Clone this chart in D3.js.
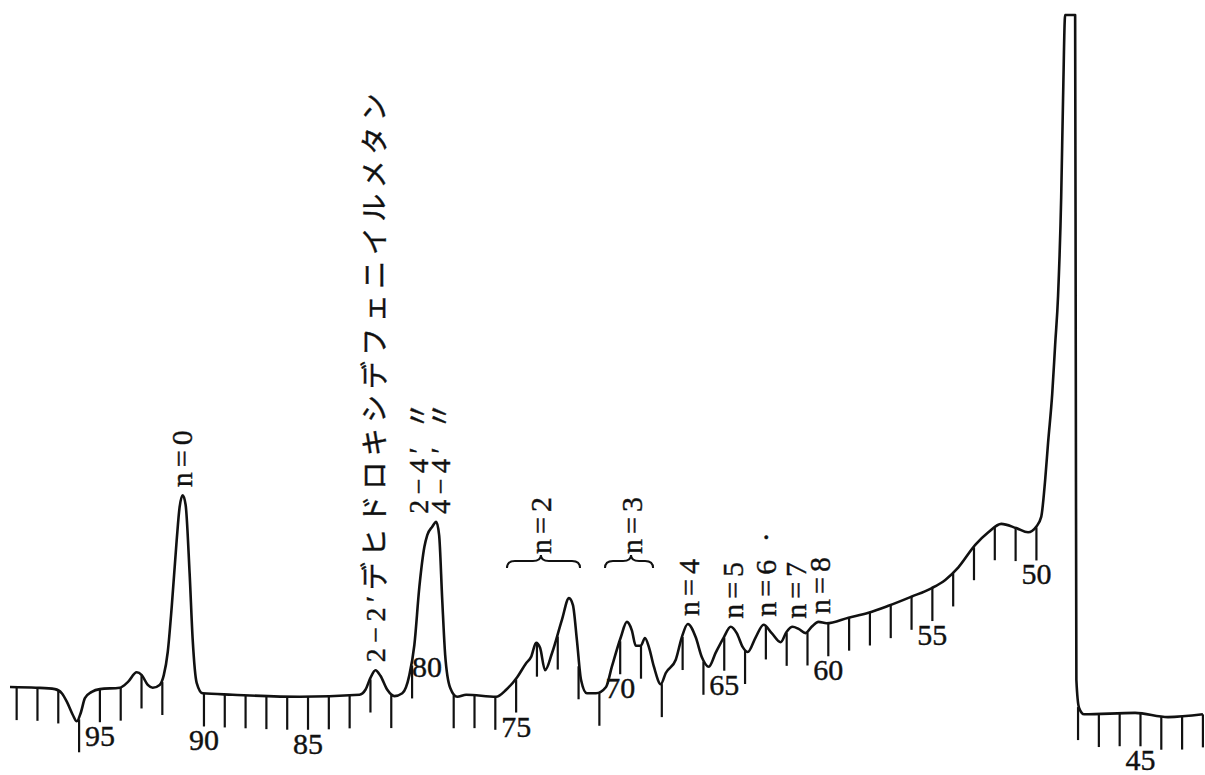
<!DOCTYPE html>
<html>
<head>
<meta charset="utf-8">
<script src="https://cdn.jsdelivr.net/npm/d3@7"></script>
<style>
  html, body { margin: 0; padding: 0; background: #fff; }
  svg { display: block; }
</style>
</head>
<body>
<svg id="chart"></svg>
<script>
// elution trace, fraction number vs absorbance
const traceFraction = [
  99.32, 98.07, 97.16, 96.83, 96.59, 96.30, 96.11, 95.91, 95.72, 95.39, 95.00,
  94.04, 93.66, 93.23, 92.99, 92.70, 92.46, 92.13, 91.93, 91.74, 91.55, 91.31,
  91.17, 91.02, 90.88, 90.69, 90.54, 90.35, 90.06, 88.62, 85.41, 82.53, 82.24,
  82.00, 81.76, 81.52, 81.19, 80.85, 80.47, 80.13, 79.89, 79.65, 79.41, 79.27,
  79.03, 78.84, 78.70, 78.55, 78.41, 78.17, 77.83, 77.40, 75.96, 75.48, 74.95,
  74.52, 74.28, 74.04, 73.85, 73.61, 73.27, 72.80, 72.46, 72.27, 72.08, 71.88,
  71.60, 71.16, 70.68, 70.40, 69.97, 69.68, 69.44, 69.25, 69.01, 68.81, 68.62,
  68.38, 68.05, 67.81, 67.33, 67.04, 66.75, 66.37, 66.08, 65.74, 65.41, 65.02,
  64.69, 64.40, 64.11, 63.87, 63.49, 63.11, 62.72, 62.29, 62.00, 61.72, 61.43,
  61.09, 60.80, 60.47, 60.08, 59.03, 58.07, 57.11, 56.01, 55.05, 54.38, 53.75,
  52.94, 52.31, 51.69, 50.97, 50.40, 50.01, 49.77, 49.58, 49.44, 49.24, 49.10,
  48.96, 48.81, 48.72, 48.62, 48.14, 48.11, 48.08, 47.95, 47.71, 45.26, 43.68,
  42.00
]
const traceAbs = [
  0.040, 0.039, 0.037, 0.031, 0.019, 0.000, -0.009, 0.004, 0.024, 0.033, 0.037,
  0.039, 0.047, 0.061, 0.057, 0.043, 0.039, 0.043, 0.057, 0.090, 0.154, 0.250,
  0.297, 0.314, 0.300, 0.203, 0.107, 0.046, 0.031, 0.029, 0.026, 0.029, 0.036,
  0.053, 0.064, 0.056, 0.036, 0.027, 0.031, 0.057, 0.100, 0.183, 0.240, 0.257,
  0.269, 0.276, 0.257, 0.164, 0.086, 0.039, 0.026, 0.029, 0.026, 0.036, 0.054,
  0.074, 0.083, 0.103, 0.096, 0.064, 0.089, 0.136, 0.167, 0.157, 0.107, 0.050,
  0.031, 0.031, 0.040, 0.069, 0.111, 0.133, 0.121, 0.099, 0.099, 0.110, 0.097,
  0.069, 0.044, 0.060, 0.079, 0.111, 0.130, 0.111, 0.083, 0.069, 0.089, 0.111,
  0.126, 0.117, 0.097, 0.090, 0.111, 0.129, 0.117, 0.104, 0.119, 0.126, 0.123,
  0.117, 0.126, 0.133, 0.131, 0.139, 0.146, 0.156, 0.169, 0.181, 0.193, 0.211,
  0.243, 0.261, 0.273, 0.267, 0.261, 0.269, 0.283, 0.336, 0.389, 0.459, 0.529,
  0.599, 0.740, 0.881, 1.000, 1.000, 0.521, 0.050, 0.010, 0.001, 0.003, -0.003,
  0.001
]

// fraction marks (none drawn inside the three tallest peaks)
const tickFractions = [
  99, 98, 97, 96, 95, 94, 93, 92, 90, 89, 88, 87, 86, 85, 84, 83, 82, 81, 80,
  78, 77, 76, 75, 74, 73, 72, 71, 70, 69, 68, 67, 66, 65, 64, 63, 62, 61, 60,
  59, 58, 57, 56, 55, 54, 53, 52, 51, 50, 48, 47, 46, 45, 44, 43, 42
]
const labelFractions = [95, 90, 85, 80, 75, 70, 65, 60, 55, 50, 45]

// peak annotations
const peakNames = [
  'n=0',
  '2−2′デヒドロキシデフェニイルメタン',
  '2−4′ 〃\n4−4′ 〃',
  'n=4', 'n=5', 'n=6 ·', 'n=7', 'n=8'
]
const peakAt = [91.06, 81.78, 79.19, 66.74, 64.58, 63.00, 61.60, 60.40]

const bracedNames = ['n=2', 'n=3']
const bracedAt = [73.81, 69.48]
const bracedFrom = [75.44, 70.73]
const bracedTo = [71.93, 68.42]

const W = 1205, H = 775
const tickLen = 33
const braceLevel = 0.21
const fontStack = "'Liberation Serif', 'Noto Sans CJK JP', serif"
const labelNudge = { 80: [15, -45] }

const svg = d3.select('#chart').attr('width', W).attr('height', H)

const x = d3.scaleLinear().domain([99.8, 41.9]).range([0, W])
const y = d3.scaleLinear().domain([0, 1]).range([715, 15])

const trace = traceFraction.map((f, i) => [f, traceAbs[i]])

const line = d3.line()
  .x(d => x(d[0]))
  .y(d => y(d[1]))
  .curve(d3.curveMonotoneX)

const g = svg.append('g')

const path = g.append('path')
  .datum(trace)
  .attr('d', line)
  .attr('fill', 'none')
  .attr('stroke', '#111')
  .attr('stroke-width', 2.6)
  .attr('stroke-linejoin', 'round')

// sample the drawn trace so marks hang from the curve itself
const node = path.node()
const total = node.getTotalLength()
const samples = d3.range(0, total, 0.5).map(l => node.getPointAtLength(l))

function curveY(px) {
  const near = samples.filter(s => Math.abs(s.x - px) < 0.8)
  if (near.length) return d3.max(near, s => s.y)
  return samples[d3.minIndex(samples, s => Math.abs(s.x - px))].y
}
function curveTop(px0, px1) {
  return d3.min(samples.filter(s => s.x >= px0 && s.x <= px1), s => s.y)
}

// fraction ticks
g.selectAll('line.tick').data(tickFractions).enter()
  .append('line').attr('class', 'tick')
  .attr('x1', d => x(d)).attr('x2', d => x(d))
  .attr('y1', d => curveY(x(d)))
  .attr('y2', d => curveY(x(d)) + tickLen)
  .attr('stroke', '#111')
  .attr('stroke-width', 2.2)

// fraction numbers
g.selectAll('text.frac').data(labelFractions).enter()
  .append('text').attr('class', 'frac')
  .attr('x', d => x(d) + (labelNudge[d] ? labelNudge[d][0] : 0))
  .attr('y', d => curveY(x(d)) + tickLen + 24 + (labelNudge[d] ? labelNudge[d][1] : 0))
  .attr('text-anchor', 'middle')
  .style('font-family', fontStack)
  .style('font-size', '30px')
  .attr('fill', '#111')
  .attr('stroke', '#111')
  .attr('stroke-width', 0.4)
  .text(d => d)

// rotated peak labels
function vertical(sel, cx, bottom, txt, size, spacing) {
  sel.append('text')
    .attr('transform', `translate(${cx},${bottom}) rotate(-90)`)
    .attr('dy', '0.35em')
    .style('font-family', fontStack)
    .style('font-size', size + 'px')
    .style('letter-spacing', spacing + 'px')
    .attr('fill', '#111')
    .attr('stroke', '#111')
    .attr('stroke-width', 0.4)
    .text(txt)
}

peakNames.forEach((name, i) => {
  const lines = name.split('\n')
  const cx = x(peakAt[i])
  const gap = 22
  const half = (lines.length - 1) * gap / 2
  const bottom = curveTop(cx - half - 10, cx + half + 10) - 8
  const long = name.length > 12
  lines.forEach((t, j) => {
    vertical(g, cx - half + j * gap, bottom, t, long ? 28 : 30, long ? 5.5 : 5)
  })
})

// braced labels (n=2, n=3)
function bracePath(x0, x1, xm, yEnd) {
  const yMid = yEnd - 7, yTop = yEnd - 13, q = 8
  return `M${x0},${yEnd} Q${x0},${yMid} ${x0 + q},${yMid} L${xm - q},${yMid}` +
    ` Q${xm},${yMid} ${xm},${yTop} Q${xm},${yMid} ${xm + q},${yMid}` +
    ` L${x1 - q},${yMid} Q${x1},${yMid} ${x1},${yEnd}`
}

bracedNames.forEach((name, i) => {
  const yEnd = y(braceLevel)
  const xm = x(bracedAt[i])
  g.append('path')
    .attr('d', bracePath(x(bracedFrom[i]), x(bracedTo[i]), xm, yEnd))
    .attr('fill', 'none')
    .attr('stroke', '#111')
    .attr('stroke-width', 2)
  vertical(g, xm, yEnd - 14, name, 30, 5)
})
</script>
</body>
</html>
